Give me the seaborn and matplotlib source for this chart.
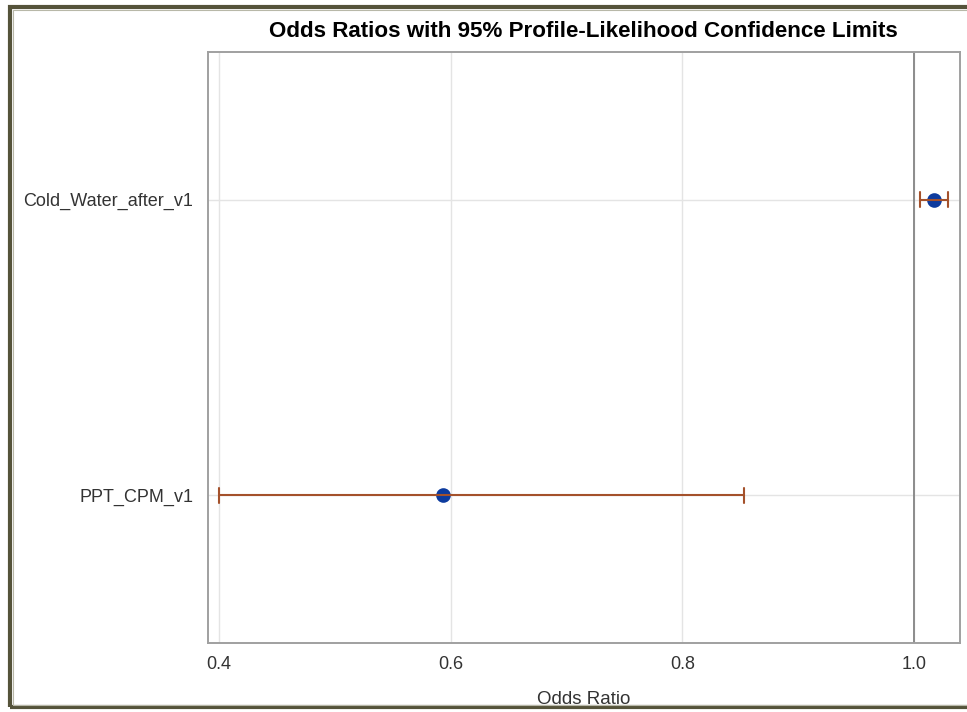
import numpy as np
import pandas as pd
import matplotlib
matplotlib.use("Agg")
import matplotlib.pyplot as plt
import seaborn as sns
from matplotlib.patches import Rectangle

# Odds ratio estimates with 95% profile-likelihood limits
effects = ["Cold_Water_after_v1", "PPT_CPM_v1"]
lower = [1.005, 0.400]
estimate = [1.017, 0.593]
upper = [1.029, 0.853]
x_ticks = [0.4, 0.6, 0.8, 1.0]
x_tick_labels = ["0.4", "0.6", "0.8", "1.0"]

# Long table: each effect contributes its lower limit, estimate and upper limit;
# the median gives the estimate and the full percentile range gives the interval.
rows = []
for name, lo, est, hi in zip(effects, lower, estimate, upper):
    for v in (lo, est, hi):
        rows.append({"Effect": name, "Odds Ratio": v})
df = pd.DataFrame(rows)

sns.set_theme(style="white")
plt.rcParams["font.family"] = ["Liberation Sans", "DejaVu Sans"]

fig = plt.figure(figsize=(9.67, 7.12), dpi=100)
ax = fig.add_axes([0.2148, 0.0969, 0.7780, 0.8301])

grid_c = "#e4e4e4"
for xv in x_ticks:
    ax.axvline(xv, color=grid_c, lw=1.0, zorder=0)
for yv in range(len(effects)):
    ax.axhline(yv, color=grid_c, lw=1.0, zorder=0)

# Reference line at odds ratio 1
ax.axvline(1.0, color="#8c8c8c", lw=1.4, zorder=1)

sns.pointplot(
    data=df, x="Odds Ratio", y="Effect", order=effects,
    estimator="median", errorbar=("pi", 100),
    linestyle="none", color="#0d3b9e", markersize=8.5,
    capsize=0.05, err_kws={"color": "#a4512b", "linewidth": 1.5},
    ax=ax, zorder=3,
)

ax.set_xlim(0.3902, 1.0397)
ax.set_ylim(1.5, -0.5)
ax.set_xticks(x_ticks)
ax.set_xticklabels(x_tick_labels)

for s in ax.spines.values():
    s.set_color("#a0a0a0")
    s.set_linewidth(1.4)

ax.tick_params(axis="x", direction="out", length=6.5, width=1.0, color="#8c8c8c",
               labelsize=13, labelcolor="#333333", pad=3)
ax.tick_params(axis="y", length=0, labelsize=13, labelcolor="#333333", pad=10.5)

ax.set_xlabel("Odds Ratio", fontsize=13.5, color="#333333", labelpad=13)
ax.set_ylabel("")
ax.set_title("Odds Ratios with 95% Profile-Likelihood Confidence Limits",
             fontsize=16.1, fontweight="bold", color="#000000", pad=11)

# Outer frame of the graph window
fig.patches.append(Rectangle((10 / 967, 5 / 712), 1.1, 700 / 712,
                             transform=fig.transFigure, fill=False,
                             edgecolor="#55533a", linewidth=3.0))
fig.patches.append(Rectangle((12.5 / 967, 7.5 / 712), 1.1, 695 / 712,
                             transform=fig.transFigure, fill=False,
                             edgecolor="#b8b8a8", linewidth=0.8))

fig.savefig("out.png", dpi=100)
